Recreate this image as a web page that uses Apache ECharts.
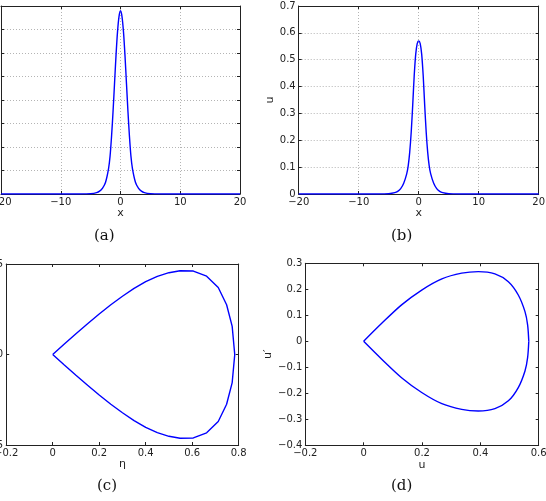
<!DOCTYPE html>
<html>
<head>
<meta charset="utf-8">
<script src="https://cdn.jsdelivr.net/npm/echarts@6/dist/echarts.min.js"></script>
<style>
html,body{margin:0;padding:0;background:#fff;}
#main{width:546px;height:501px;}
</style>
</head>
<body>
<div id="main"></div>
<script>
// (a) eta(x)   (b) u(x)
var xAB = [-20,-10,-8,-7,-6,-5,-4,-3.5,-3,-2.5,-2,-1.75,-1.5,-1.25,-1,-0.75,-0.5,-0.25,0,
           0.25,0.5,0.75,1,1.25,1.5,1.75,2,2.5,3,3.5,4,5,6,7,8,10,20];
var etaA = [0,0,0,0,0.0004,0.0013,0.006,0.012,0.025,0.05,0.108,0.16,0.245,0.35,0.47,0.59,0.69,0.755,0.78,
            0.755,0.69,0.59,0.47,0.35,0.245,0.16,0.108,0.05,0.025,0.012,0.006,0.0013,0.0004,0,0,0,0];
var uB = [0,0,0,0,0.0003,0.001,0.005,0.01,0.02,0.04,0.075,0.105,0.155,0.23,0.33,0.44,0.52,0.56,0.57,
          0.56,0.52,0.44,0.33,0.23,0.155,0.105,0.075,0.04,0.02,0.01,0.005,0.001,0.0003,0,0,0,0];

// (c) eta' against eta, closed loop
var etaC  = [0,0.05,0.1,0.15,0.2,0.25,0.3,0.35,0.4,0.45,0.5,0.548,0.605,0.662,0.712,0.748,0.772,0.783,
             0.772,0.748,0.712,0.662,0.605,0.548,0.5,0.45,0.4,0.35,0.3,0.25,0.2,0.15,0.1,0.05,0];
var detaC = [0,0.058,0.115,0.17,0.224,0.275,0.322,0.365,0.403,0.432,0.452,0.463,0.461,0.433,0.37,0.275,0.155,0,
             -0.155,-0.275,-0.37,-0.433,-0.461,-0.463,-0.452,-0.432,-0.403,-0.365,-0.322,-0.275,-0.224,-0.17,-0.115,-0.058,0];

// (d) u' against u, upper and lower branch from the cusp
var uD     = [0,0.062,0.13,0.199,0.268,0.336,0.393,0.45,0.496,0.53,0.553,0.562,0.566];
var duDup  = [0,0.069,0.14,0.197,0.24,0.262,0.268,0.259,0.229,0.178,0.114,0.063,0];
var duDlow = [0,-0.069,-0.14,-0.197,-0.24,-0.262,-0.268,-0.259,-0.229,-0.178,-0.114,-0.063,0];

function pairs(xs, ys){
	var out = [];
	for(var i=0;i<xs.length;i++){ out.push([xs[i], ys[i]]); }
	return out;
}

function fmt(v){
	var s = String(parseFloat(Number(v).toFixed(3)));
	return s.replace('-', '\u2212');
}

var txt = '#222';
var grids = [
	{left:1,     top:6,     width:239,   height:188, outerBoundsMode:'none', containLabel:false},
	{left:298.7, top:6,     width:240,   height:188, outerBoundsMode:'none', containLabel:false},
	{left:6.2,   top:264,   width:232.5, height:181, outerBoundsMode:'none', containLabel:false},
	{left:305.3, top:263.3, width:233.4, height:182, outerBoundsMode:'none', containLabel:false}
];

var xAxes = [], yAxes = [];
function addAxes(g, xmin, xmax, xint, ymin, ymax, yint, gridOn, xname, yname, ygap){
	var line = {show:true, onZero:false, lineStyle:{color:'#222', width:1}};
	var tick = {show:true, inside:true, length:3, lineStyle:{color:'#222'}};
	var split = {show:gridOn, lineStyle:{color:'#b4b4b4', type:[1,2], width:1}};
	xAxes.push({type:'value', gridIndex:g, min:xmin, max:xmax, interval:xint, position:'bottom',
		axisLine:line, axisTick:tick, splitLine:split,
		axisLabel:{show:true, margin:3, fontSize:10, color:txt, fontFamily:'DejaVu Sans', formatter:fmt,
			showMinLabel:true, showMaxLabel:true},
		name:xname, nameLocation:'middle', nameGap:13,
		nameTextStyle:{fontSize:11, color:txt, fontFamily:'DejaVu Sans'}});
	xAxes.push({type:'value', gridIndex:g, min:xmin, max:xmax, interval:xint, position:'top',
		axisLine:line, axisTick:tick, splitLine:{show:false}, axisLabel:{show:false}});
	yAxes.push({type:'value', gridIndex:g, min:ymin, max:ymax, interval:yint, position:'left',
		axisLine:line, axisTick:tick, splitLine:split,
		axisLabel:{show:true, margin:3, fontSize:10, color:txt, fontFamily:'DejaVu Sans', formatter:fmt,
			showMinLabel:true, showMaxLabel:true},
		name:yname, nameLocation:'middle', nameGap:ygap, nameRotate:90,
		nameTextStyle:{fontSize:11, color:txt, fontFamily:'DejaVu Sans'}});
	yAxes.push({type:'value', gridIndex:g, min:ymin, max:ymax, interval:yint, position:'right',
		axisLine:line, axisTick:tick, splitLine:{show:false}, axisLabel:{show:false}});
}

addAxes(0, -20, 20, 10, 0, 0.8, 0.1, true, 'x', '', 20);
addAxes(1, -20, 20, 10, 0, 0.7, 0.1, true, 'x', 'u', 18);
addAxes(2, -0.2, 0.8, 0.2, -0.5, 0.5, 0.5, false, '\u03b7', '', 20);
addAxes(3, -0.2, 0.6, 0.2, -0.4, 0.3, 0.1, false, 'u', 'u\u2032', 22);

var blue = {color:'#0000ff', width:1.4};
function lineSeries(g, data, smooth){
	return {type:'line', xAxisIndex:g*2, yAxisIndex:g*2, data:data, showSymbol:false,
		smooth:smooth, lineStyle:blue, itemStyle:{color:'#0000ff'}, animation:false, silent:true};
}

var captions = [['(a)',104,238],['(b)',401,238],['(c)',107,488],['(d)',401,488]];
var graphic = [];
for(var i=0;i<captions.length;i++){
	graphic.push({type:'text', left:captions[i][1]-10, top:captions[i][2]-9,
		style:{text:captions[i][0], fontFamily:'DejaVu Serif', fontSize:15, fill:'#111'}});
}

var chart = echarts.init(document.getElementById('main'), null, {renderer:'canvas'});
chart.setOption({
	backgroundColor:'#fff',
	animation:false,
	grid:grids,
	xAxis:xAxes,
	yAxis:yAxes,
	graphic:graphic,
	series:[
		lineSeries(0, pairs(xAB, etaA), 0.3),
		lineSeries(1, pairs(xAB, uB), 0.3),
		lineSeries(2, pairs(etaC, detaC), false),
		lineSeries(3, pairs(uD, duDup), 0.3),
		lineSeries(3, pairs(uD, duDlow), 0.3)
	]
});
</script>
</body>
</html>
